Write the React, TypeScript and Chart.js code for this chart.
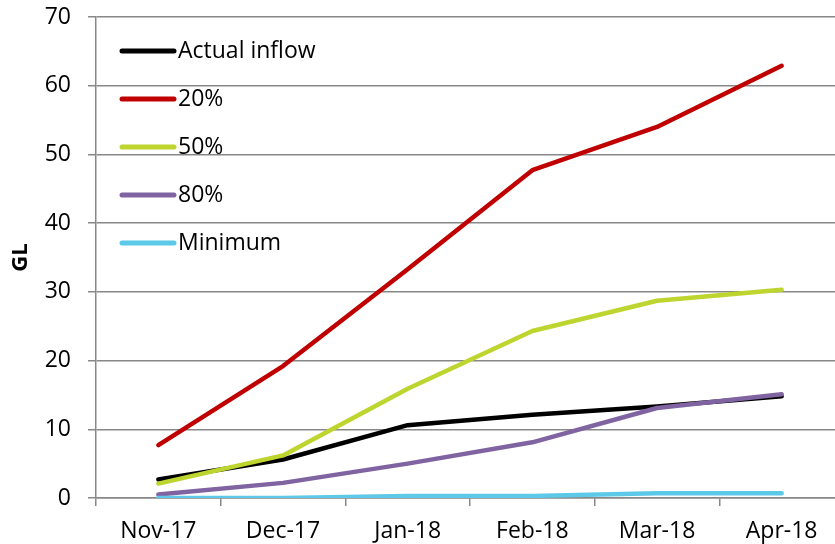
import React, { useEffect, useRef } from "react";
import { Chart, registerables } from "chart.js";

Chart.register(...registerables);

const categories = ["Nov-17", "Dec-17", "Jan-18", "Feb-18", "Mar-18", "Apr-18"];
const actualInflow = [2.7, 5.6, 10.6, 12.1, 13.3, 14.8];
const p20 = [7.7, 19.2, 33.3, 47.7, 54.0, 62.9];
const p50 = [2.1, 6.2, 15.9, 24.3, 28.7, 30.3];
const p80 = [0.5, 2.2, 5.0, 8.1, 13.1, 15.1];
const minimum = [0.0, 0.0, 0.3, 0.3, 0.7, 0.7];
const yTicks = [0, 10, 20, 30, 40, 50, 60, 70];

const FONT = "'Open Sans', Lato, sans-serif";
const GRID = "#888888";

const legendPlugin = {
  id: "insideLegend",
  afterDatasetsDraw(chart: any) {
    const ctx = chart.ctx;
    ctx.save();
    chart.data.datasets.forEach((ds: any, i: number) => {
      const y = 51 + i * 48;
      ctx.strokeStyle = ds.borderColor;
      ctx.lineWidth = 5;
      ctx.lineCap = "round";
      ctx.beginPath();
      ctx.moveTo(122, y);
      ctx.lineTo(174, y);
      ctx.stroke();
      ctx.fillStyle = "#000";
      ctx.font = `23px ${FONT}`;
      ctx.textBaseline = "middle";
      ctx.textAlign = "left";
      ctx.fillText(ds.label, 178, y);
    });
    ctx.restore();
  },
};

export default function App() {
  const ref = useRef<HTMLCanvasElement | null>(null);
  useEffect(() => {
    if (!ref.current) return;
    const mk = (label: string, data: number[], color: string, order: number) => ({
      label,
      data,
      borderColor: color,
      backgroundColor: color,
      borderWidth: 4.5,
      pointRadius: 0,
      tension: 0,
      borderCapStyle: "round" as const,
      borderJoinStyle: "round" as const,
      order,
    });
    const chart = new Chart(ref.current, {
      type: "line",
      data: {
        labels: categories,
        datasets: [
          mk("Actual inflow", actualInflow, "#000000", 5),
          mk("20%", p20, "#C00000", 4),
          mk("50%", p50, "#BED52F", 3),
          mk("80%", p80, "#8064A2", 2),
          mk("Minimum", minimum, "#5DC9E8", 1),
        ],
      },
      options: {
        animation: false,
        responsive: false,
        devicePixelRatio: 1,
        layout: { padding: { top: 17, right: 0, left: 0, bottom: 0 } },
        plugins: { legend: { display: false }, tooltip: { enabled: false } },
        scales: {
          x: {
            offset: true,
            grid: {
              offset: true,
              drawOnChartArea: false,
              drawTicks: true,
              tickLength: 8,
              color: GRID,
              lineWidth: 1.5,
            },
            border: { color: GRID, width: 1.5 },
            ticks: {
              color: "#000",
              font: { family: FONT, size: 23 },
              padding: 12,
              maxRotation: 0,
            },
            afterFit: (s: any) => {
              s.height = 46;
              s.paddingLeft = 0;
              s.paddingRight = 0;
            },
          },
          y: {
            min: 0,
            max: 70,
            afterBuildTicks: (s: any) => {
              s.ticks = yTicks.map((v) => ({ value: v }));
            },
            grid: {
              color: GRID,
              lineWidth: 1.5,
              drawTicks: true,
              tickLength: 8,
            },
            border: { color: GRID, width: 1.5 },
            ticks: {
              color: "#000",
              font: { family: FONT, size: 23 },
              padding: 17,
            },
            title: {
              display: true,
              text: "GL",
              color: "#000",
              font: { family: FONT, size: 22, weight: "bold" },
              padding: { top: 8, bottom: 0 },
            },
            afterFit: (s: any) => {
              s.width = 96;
              s.paddingTop = 0;
              s.paddingBottom = 0;
            },
          },
        },
      },
      plugins: [legendPlugin],
    });
    return () => chart.destroy();
  }, []);
  return (
    <div
      style={{
        position: "fixed",
        left: 0,
        top: 0,
        width: 835,
        height: 544,
        overflow: "hidden",
        background: "#fff",
      }}
    >
      <canvas ref={ref} width={844} height={544} style={{ width: 844, height: 544, display: "block" }} />
    </div>
  );
}
